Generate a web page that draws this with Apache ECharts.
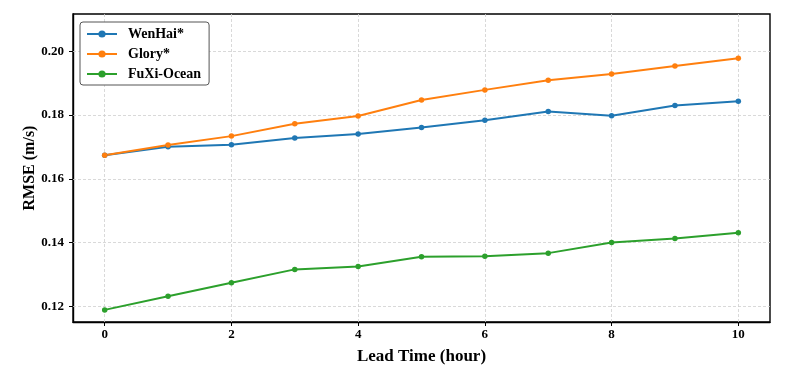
<!DOCTYPE html>
<html><head><meta charset="utf-8">
<script src="https://cdn.jsdelivr.net/npm/echarts@6/dist/echarts.min.js"></script>
<style>html,body{margin:0;padding:0;background:#fff}#c{width:793px;height:376px}</style>
</head><body><div id="c"></div>
<script>
const leadTimes = [0,1,2,3,4,5,6,7,8,9,10];
const wenhai = [0.1674,0.1701,0.1707,0.1728,0.1741,0.1761,0.1784,0.1811,0.1798,0.1830,0.1843];
const glory  = [0.1674,0.1706,0.1734,0.1773,0.1797,0.1847,0.1879,0.1909,0.1929,0.1954,0.1978];
const fuxi   = [0.1189,0.1232,0.1274,0.1316,0.1325,0.1356,0.1357,0.1367,0.1400,0.1413,0.1431];
const xTicks = [0,2,4,6,8,10];
const yTicks = [0.12,0.14,0.16,0.18,0.20];
const names = ['WenHai*','Glory*','FuXi-Ocean'];
const colors = ['#1f77b4','#ff7f0e','#2ca02c'];
const font = 'Liberation Serif, Times New Roman, serif';

const chart = echarts.init(document.getElementById('c'), null, {renderer:'canvas'});
const mk = (name, vals, color) => ({
  name, type:'line', data: leadTimes.map((x,i)=>[x,vals[i]]),
  symbol:'circle', symbolSize:5.5, showSymbol:true,
  lineStyle:{width:2, color}, itemStyle:{color}, color,
  emphasis:{disabled:true}, z: 10
});
const gridSeries = {
  name:'_grid', type:'line', data:[], z:1, silent:true,
  markLine:{
    z:1, silent:true, animation:false, symbol:'none', label:{show:false},
    lineStyle:{color:'#cfcfcf', type:[3,2], width:0.8},
    emphasis:{disabled:true},
    data: xTicks.map(v=>({xAxis:v})).concat(yTicks.map(v=>({yAxis:v})))
  }
};
chart.setOption({
  animation:false,
  grid:{left:73,right:23,top:14,bottom:54,show:true,borderColor:'#000',borderWidth:1.4,backgroundColor:'transparent'},
  legend:{
    orient:'vertical', left:80, top:22, data:names, z:20,
    backgroundColor:'#fff', borderColor:'#555', borderWidth:1, borderRadius:3,
    padding:[5,8,4,6], itemGap:6, itemWidth:30, itemHeight:9,
    textStyle:{fontFamily:font, fontWeight:'bold', fontSize:14, color:'#000', padding:[0,0,0,6]}
  },
  xAxis:{
    type:'value', min:-0.5, max:10.5,
    name:'Lead Time (hour)', nameLocation:'middle', nameGap:26, nameMoveOverlap:false,
    nameTextStyle:{fontFamily:font, fontWeight:'bold', fontSize:17, color:'#000'},
    axisLine:{show:true, onZero:false, lineStyle:{color:'#000', width:1.4}},
    axisTick:{show:true, length:4, customValues:xTicks, lineStyle:{color:'#000'}},
    axisLabel:{customValues:xTicks, fontFamily:font, fontWeight:'bold', fontSize:13, color:'#000', margin:6},
    splitLine:{show:false}
  },
  yAxis:{
    type:'value', min:0.1151, max:0.2117,
    name:'RMSE (m/s)', nameLocation:'middle', nameGap:35, nameMoveOverlap:false,
    nameTextStyle:{fontFamily:font, fontWeight:'bold', fontSize:16, color:'#000'},
    axisLine:{show:true, onZero:false, lineStyle:{color:'#000', width:1.4}},
    axisTick:{show:true, length:4, customValues:yTicks, lineStyle:{color:'#000'}},
    axisLabel:{customValues:yTicks, fontFamily:font, fontWeight:'bold', fontSize:13, color:'#000', margin:9,
      formatter:v=>v.toFixed(2)},
    splitLine:{show:false}
  },
  series:[gridSeries, mk(names[0],wenhai,colors[0]), mk(names[1],glory,colors[1]), mk(names[2],fuxi,colors[2])]
});
</script></body></html>
